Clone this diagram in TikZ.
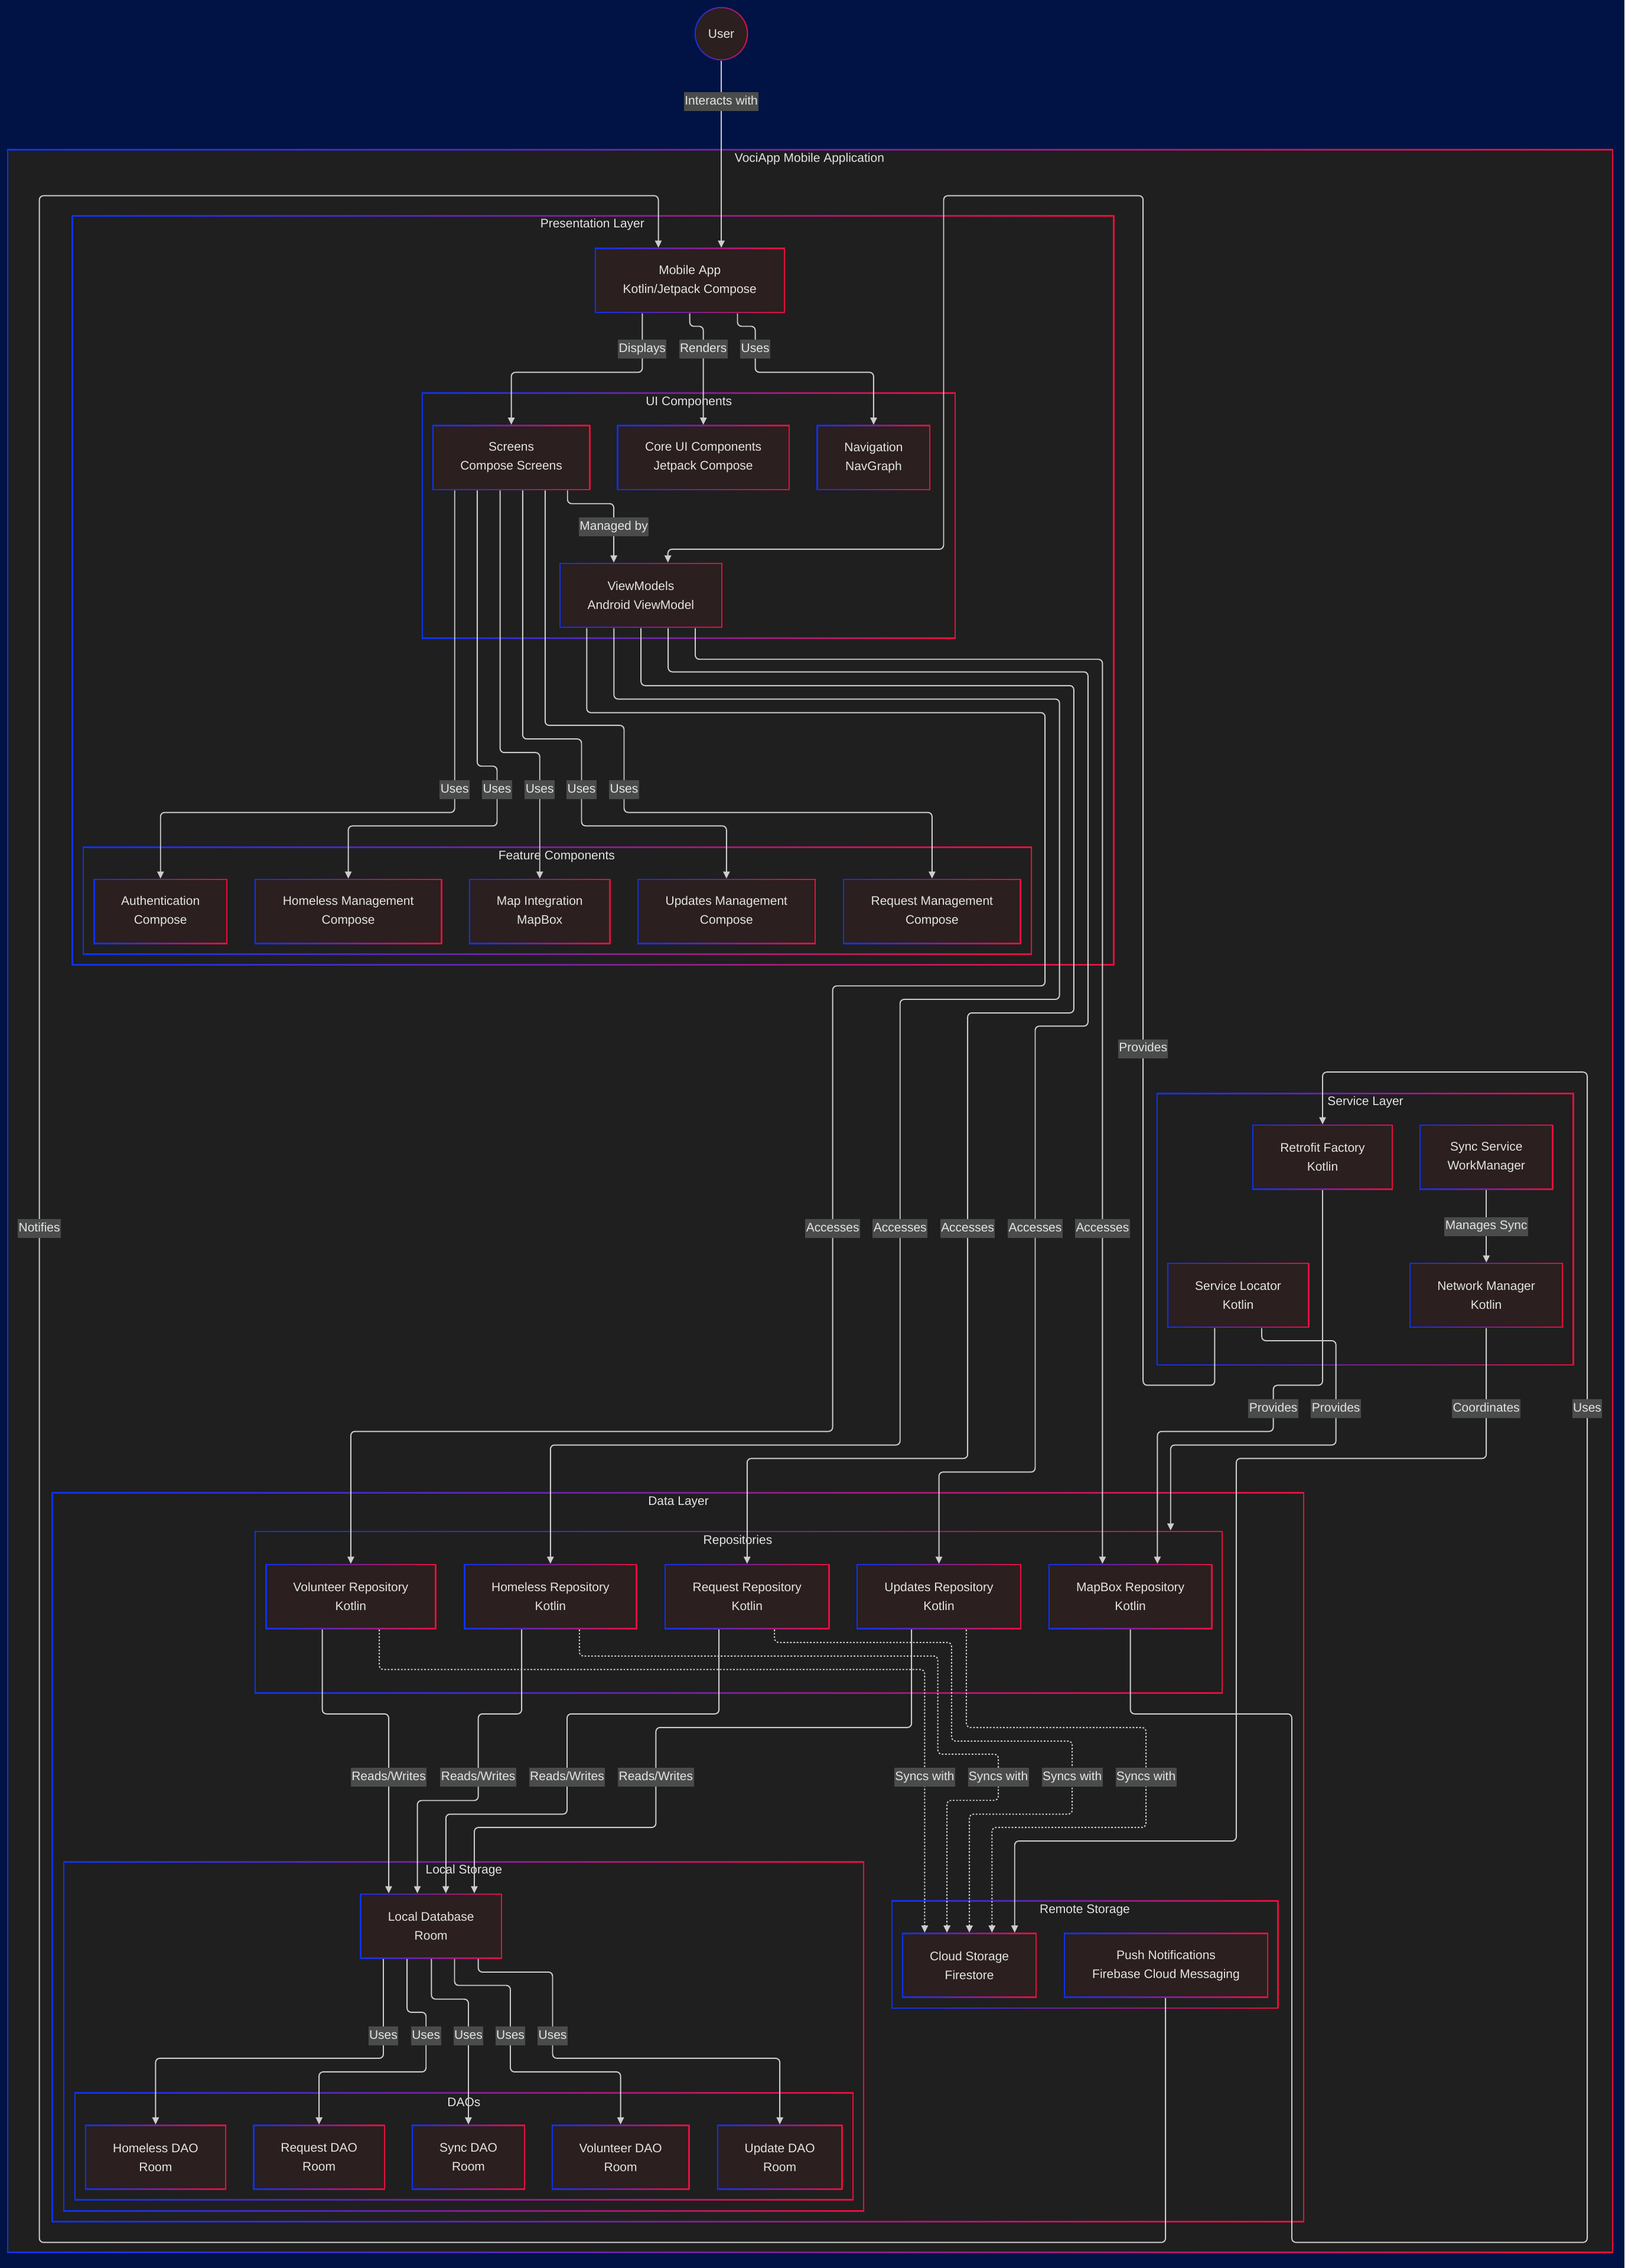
\documentclass[tikz,border=0pt]{standalone}
\usepackage{fontspec}
\setmainfont{Liberation Sans}
\usetikzlibrary{arrows.meta,fit,calc}
\newcommand\myfs{\fontsize{5.97pt}{9.1pt}\selectfont}
\definecolor{navy}{RGB}{1,19,69}
\definecolor{panel}{RGB}{31,31,31}
\definecolor{nfill}{RGB}{43,31,31}
\definecolor{gblue}{RGB}{15,50,235}
\definecolor{gred}{RGB}{230,15,60}
\definecolor{edgec}{RGB}{205,205,205}
\definecolor{lblbg}{RGB}{74,76,75}
\definecolor{txt}{RGB}{228,228,228}
\tikzset{
  nbox/.style={rectangle, inner sep=0pt, align=center, font=\myfs, text=txt,
    left color=gblue, right color=gred,
    path picture={\fill[nfill] ([shift={(0.6pt,0.6pt)}]path picture bounding box.south west) rectangle ([shift={(-0.6pt,-0.6pt)}]path picture bounding box.north east);}},
  grp/.style={rectangle, inner sep=0pt, left color=gblue, right color=gred,
    path picture={\fill[panel] ([shift={(0.6pt,0.6pt)}]path picture bounding box.south west) rectangle ([shift={(-0.6pt,-0.6pt)}]path picture bounding box.north east);}},
  gtitle/.style={inner sep=0pt, font=\myfs, text=txt},
  lbl/.style={fill=lblbg, inner xsep=0.4pt, inner ysep=1.8pt, text height=4.3pt, text depth=1.2pt, font=\myfs, text=txt},
  conn/.style={draw=edgec, line width=0.55pt, rounded corners=2pt, -{Triangle[length=3.4pt,width=3.2pt]}},
  dconn/.style={conn, dash pattern=on 0.8pt off 0.8pt},
}
% box node from corner coordinates (in picture units)
\newcommand\nb[6]{%
  \pgfmathsetmacro\nbcx{(#2+#4)/2}%
  \pgfmathsetmacro\nbcy{(#3+#5)/2}%
  \pgfmathsetmacro\nbw{(#4-#2)*0.024497}%
  \pgfmathsetmacro\nbh{(#5-#3)*0.024497}%
  \node[nbox, minimum width=\nbw cm, minimum height=\nbh cm] (#1) at (\nbcx,\nbcy) {#6};}
\begin{document}
\begin{tikzpicture}[x=0.024497cm, y=-0.024497cm]
\useasboundingbox (0,0) rectangle (1123,1568);
\fill[navy] (0,0) rectangle (1123,1568);

% ---------- groups ----------
\node[grp, fit={(5,103.3) (1115,1557.6)}] (gmain) {};
\node[gtitle] (tmain) at (559.6,109.8) {VociApp Mobile Application};
\node[grp, fit={(49.7,149) (770.3,667.4)}] (gpres) {};
\node[gtitle] (tpres) at (409.5,155.3) {Presentation Layer};
\node[grp, fit={(291.5,271.4) (660.6,441.6)}] (guic) {};
\node[gtitle] (tuic) at (476.2,278.3) {UI Components};
\node[grp, fit={(57.2,585.3) (713.4,660)}] (gfeat) {};
\node[gtitle] (tfeat) at (384.8,592.2) {Feature Components};
\node[grp, fit={(799.5,755.6) (1088,943.9)}] (gsvc) {};
\node[gtitle] (tsvc) at (943.9,761.8) {Service Layer};
\node[grp, fit={(35.8,1031.8) (901.5,1536.2)}] (gdata) {};
\node[gtitle] (tdata) at (469,1038.4) {Data Layer};
\node[grp, fit={(176,1058.4) (845.2,1170.9)}] (repo) {};
\node[gtitle] (trepo) at (510,1065.5) {Repositories};
\node[grp, fit={(43.7,1286.9) (597.4,1528.8)}] (glocal) {};
\node[gtitle] (tlocal) at (320.7,1293.3) {Local Storage};
\node[grp, fit={(51.4,1446.7) (590.1,1521.1)}] (gdaos) {};
\node[gtitle] (tdaos) at (320.7,1453.4) {DAOs};
\node[grp, fit={(616.3,1313.9) (883.8,1388.6)}] (gremote) {};
\node[gtitle] (tremote) at (749.9,1320.6) {Remote Storage};

% ---------- nodes ----------
\node[circle, inner sep=0pt, minimum size=37*0.024497cm, left color=gblue, right color=gred, font=\myfs, text=txt,
  path picture={\fill[nfill] (path picture bounding box.center) circle (12.3pt);}] (user) at (498.6,23.3) {User};
\nb{mob}{411.1}{171.5}{542.6}{216.4}{Mobile App\\Kotlin/Jetpack Compose}
\nb{scr}{298.8}{293.9}{408.1}{338.8}{Screens\\Compose Screens}
\nb{core}{426.6}{293.9}{545.8}{338.8}{Core UI Components\\Jetpack Compose}
\nb{nav}{564.6}{293.9}{643.2}{338.8}{Navigation\\NavGraph}
\nb{vm}{386.7}{389.2}{499.3}{434}{ViewModels\\Android ViewModel}
\nb{auth}{64.7}{607.7}{157.2}{652.7}{Authentication\\Compose}
\nb{hm}{175.9}{607.7}{305.6}{652.7}{Homeless Management\\Compose}
\nb{map}{324.2}{607.7}{422}{652.7}{Map Integration\\MapBox}
\nb{um}{440.6}{607.7}{563.8}{652.7}{Updates Management\\Compose}
\nb{rm}{582.8}{607.7}{705.8}{652.7}{Request Management\\Compose}
\nb{retro}{865.7}{777.6}{962.8}{822.5}{Retrofit Factory\\Kotlin}
\nb{sync}{981.3}{777.6}{1073.6}{822.5}{Sync Service\\WorkManager}
\nb{sloc}{806.8}{873.1}{905}{917.9}{Service Locator\\Kotlin}
\nb{net}{974.3}{873.1}{1080.5}{917.9}{Network Manager\\Kotlin}
\nb{vr}{183.5}{1081.4}{301.5}{1126.3}{Volunteer Repository\\Kotlin}
\nb{hr}{320.7}{1081.4}{440.3}{1126.3}{Homeless Repository\\Kotlin}
\nb{rr}{459.5}{1081.4}{573.4}{1126.3}{Request Repository\\Kotlin}
\nb{ur}{592.1}{1081.4}{706}{1126.3}{Updates Repository\\Kotlin}
\nb{mr}{724.7}{1081.4}{838.1}{1126.3}{MapBox Repository\\Kotlin}
\nb{ldb}{248.9}{1309.2}{347}{1354.1}{Local Database\\Room}
\nb{cs}{623.6}{1336.4}{716.6}{1381.1}{Cloud Storage\\Firestore}
\nb{pn}{735.4}{1336.4}{876.7}{1381.1}{Push Notifications\\Firebase Cloud Messaging}
\nb{hd}{58.7}{1469}{156.4}{1513.9}{Homeless DAO\\Room}
\nb{rd}{175}{1469}{266.1}{1513.9}{Request DAO\\Room}
\nb{sd}{284.6}{1469}{363}{1513.9}{Sync DAO\\Room}
\nb{vd}{381.3}{1469}{476.7}{1513.9}{Volunteer DAO\\Room}
\nb{ud}{495.7}{1469}{582.4}{1513.9}{Update DAO\\Room}

% ---------- connectors ----------
\draw[conn] (user.south) -- (mob.north -| user.south);
\draw[conn] (pn.south -| 805.7,0) -- (805.7,1550.3) -- (27.2,1550.3) -- (27.2,135.3) -- (455.1,135.3) -- (mob.north -| 455.1,0);
\draw[conn] (mob.south -| 444,0) -- (444,257.4) -- (353.45,257.4) -- (scr.north);
\draw[conn] (mob.south -| 476.8,0) -- (476.8,225.6) -- (486.2,225.6) -- (core.north);
\draw[conn] (mob.south -| 509.8,0) -- (509.8,225.6) -- (522.1,225.6) -- (522.1,257.4) -- (603.9,257.4) -- (nav.north);
\draw[conn] (scr.south -| 392.3,0) -- (392.3,348.2) -- (424.3,348.2) -- (vm.north -| 424.3,0);
\draw[conn] (sloc.south -| 839.7,0) -- (839.7,957.7) -- (790.2,957.7) -- (790.2,135.3) -- (652.3,135.3) -- (652.3,379.7) -- (461.7,379.7) -- (vm.north -| 461.7,0);
% screens -> features
\draw[conn] (scr.south -| 314.3,0) -- (314.3,561.7) -- (110.95,561.7) -- (auth.north);
\draw[conn] (scr.south -| 329.9,0) -- (329.9,529.7) -- (343.6,529.7) -- (343.6,571) -- (240.75,571) -- (hm.north);
\draw[conn] (scr.south -| 345.7,0) -- (345.7,520.3) -- (373.1,520.3) -- (map.north);
\draw[conn] (scr.south -| 361.3,0) -- (361.3,510.9) -- (402,510.9) -- (402,571) -- (502.2,571) -- (um.north);
\draw[conn] (scr.south -| 376.8,0) -- (376.8,501.5) -- (431.4,501.5) -- (431.4,561.7) -- (644.3,561.7) -- (rm.north);
% viewmodels -> repositories
\draw[conn] (vm.south -| 405.6,0) -- (405.6,492.7) -- (722.4,492.7) -- (722.4,681.6) -- (575.6,681.6) -- (575.6,989.6) -- (242.5,989.6) -- (vr.north);
\draw[conn] (vm.south -| 424.4,0) -- (424.4,483.3) -- (732.4,483.3) -- (732.4,690.9) -- (622.2,690.9) -- (622.2,999) -- (380.5,999) -- (hr.north);
\draw[conn] (vm.south -| 443.1,0) -- (443.1,474) -- (742.3,474) -- (742.3,700.3) -- (668.9,700.3) -- (668.9,1008.3) -- (516.45,1008.3) -- (rr.north);
\draw[conn] (vm.south -| 461.9,0) -- (461.9,464.5) -- (752.1,464.5) -- (752.1,709.4) -- (715.6,709.4) -- (715.6,1017.7) -- (649.05,1017.7) -- (ur.north);
\draw[conn] (vm.south -| 480.6,0) -- (480.6,455.8) -- (762.1,455.8) -- (mr.north -| 762.1,0);
% service layer
\draw[conn] (sync.south) -- (net.north -| sync.south);
\draw[conn] (retro.south) -- (914.25,957.7) -- (880.2,957.7) -- (880.2,989.6) -- (800.1,989.6) -- (mr.north -| 800.1,0);
\draw[conn] (sloc.south -| 872.2,0) -- (872.2,926.9) -- (923.5,926.9) -- (923.5,999) -- (809.2,999) -- (repo.north -| 809.2,0);
\draw[conn] (net.south) -- (1027.4,1008.3) -- (854.6,1008.3) -- (854.6,1272.8) -- (701.4,1272.8) -- (cs.north -| 701.4,0);
\draw[conn] (mr.south) -- (781.4,1184.9) -- (893,1184.9) -- (893,1550.3) -- (1097.2,1550.3) -- (1097.2,741.2) -- (914.25,741.2) -- (retro.north);
% repositories -> local db
\draw[conn] (vr.south -| 222.8,0) -- (222.8,1184.9) -- (268.7,1184.9) -- (ldb.north -| 268.7,0);
\draw[conn] (hr.south -| 360.6,0) -- (360.6,1184.9) -- (330.6,1184.9) -- (330.6,1244.8) -- (288.5,1244.8) -- (ldb.north -| 288.5,0);
\draw[conn] (rr.south -| 497,0) -- (497,1184.9) -- (392,1184.9) -- (392,1254.2) -- (308.2,1254.2) -- (ldb.north -| 308.2,0);
\draw[conn] (ur.south -| 630.1,0) -- (630.1,1194.3) -- (453.4,1194.3) -- (453.4,1263.4) -- (327.9,1263.4) -- (ldb.north -| 327.9,0);
% repositories -> cloud storage
\draw[dconn] (vr.south -| 262.2,0) -- (262.2,1154.2) -- (639.2,1154.2) -- (cs.north -| 639.2,0);
\draw[dconn] (hr.south -| 400.5,0) -- (400.5,1144.9) -- (648.3,1144.9) -- (648.3,1212.8) -- (690.1,1212.8) -- (690.1,1244.7) -- (654.6,1244.7) -- (cs.north -| 654.6,0);
\draw[dconn] (rr.south -| 535.4,0) -- (535.4,1135.5) -- (657.8,1135.5) -- (657.8,1203.7) -- (741.2,1203.7) -- (741.2,1254.2) -- (670.1,1254.2) -- (cs.north -| 670.1,0);
\draw[dconn] (ur.south -| 668,0) -- (668,1194.3) -- (792.2,1194.3) -- (792.2,1263.4) -- (685.7,1263.4) -- (cs.north -| 685.7,0);
% local db -> daos
\draw[conn] (ldb.south -| 265,0) -- (265,1423) -- (107.55,1423) -- (hd.north);
\draw[conn] (ldb.south -| 281.4,0) -- (281.4,1391.2) -- (294.5,1391.2) -- (294.5,1432.4) -- (220.55,1432.4) -- (rd.north);
\draw[conn] (ldb.south -| 298.2,0) -- (298.2,1382.1) -- (323.8,1382.1) -- (sd.north);
\draw[conn] (ldb.south -| 314.2,0) -- (314.2,1372.6) -- (352.8,1372.6) -- (352.8,1432.4) -- (429,1432.4) -- (vd.north);
\draw[conn] (ldb.south -| 330.6,0) -- (330.6,1363.4) -- (382,1363.4) -- (382,1423) -- (539.05,1423) -- (ud.north);

% ---------- labels ----------
\node[lbl] (l1) at (498.6,70.3) {Interacts with};
\node[lbl] (l2) at (27.2,849.3) {Notifies};
\node[lbl] (l3) at (444,241.5) {Displays};
\node[lbl] (l4) at (486.2,241.5) {Renders};
\node[lbl] (l5) at (522.1,241.5) {Uses};
\node[lbl] (l6) at (424.3,364.2) {Managed by};
\node[lbl] (l7) at (790.2,725) {Provides};
\node[lbl] (l8) at (314.3,546.1) {Uses};
\node[lbl] (l9) at (343.6,546.1) {Uses};
\node[lbl] (l10) at (373.1,546.1) {Uses};
\node[lbl] (l11) at (402,546.1) {Uses};
\node[lbl] (l12) at (431.4,546.1) {Uses};
\node[lbl] (l13) at (575.6,849.3) {Accesses};
\node[lbl] (l14) at (622.2,849.3) {Accesses};
\node[lbl] (l15) at (668.9,849.3) {Accesses};
\node[lbl] (l16) at (715.6,849.3) {Accesses};
\node[lbl] (l17) at (762.1,849.3) {Accesses};
\node[lbl] (l18) at (1027.45,847.9) {Manages Sync};
\node[lbl] (l19) at (880.2,974) {Provides};
\node[lbl] (l20) at (923.5,974) {Provides};
\node[lbl] (l21) at (1027.4,974) {Coordinates};
\node[lbl] (l22) at (1097.2,974) {Uses};
\node[lbl] (l23) at (268.7,1228.7) {Reads/Writes};
\node[lbl] (l24) at (330.6,1228.7) {Reads/Writes};
\node[lbl] (l25) at (392,1228.7) {Reads/Writes};
\node[lbl] (l26) at (453.4,1228.7) {Reads/Writes};
\node[lbl] (l27) at (639.2,1228.7) {Syncs with};
\node[lbl] (l28) at (690.1,1228.7) {Syncs with};
\node[lbl] (l29) at (741.2,1228.7) {Syncs with};
\node[lbl] (l30) at (792.2,1228.7) {Syncs with};
\node[lbl] (l31) at (265,1407.4) {Uses};
\node[lbl] (l32) at (294.5,1407.4) {Uses};
\node[lbl] (l33) at (323.8,1407.4) {Uses};
\node[lbl] (l34) at (352.8,1407.4) {Uses};
\node[lbl] (l35) at (382,1407.4) {Uses};
\end{tikzpicture}
\end{document}
